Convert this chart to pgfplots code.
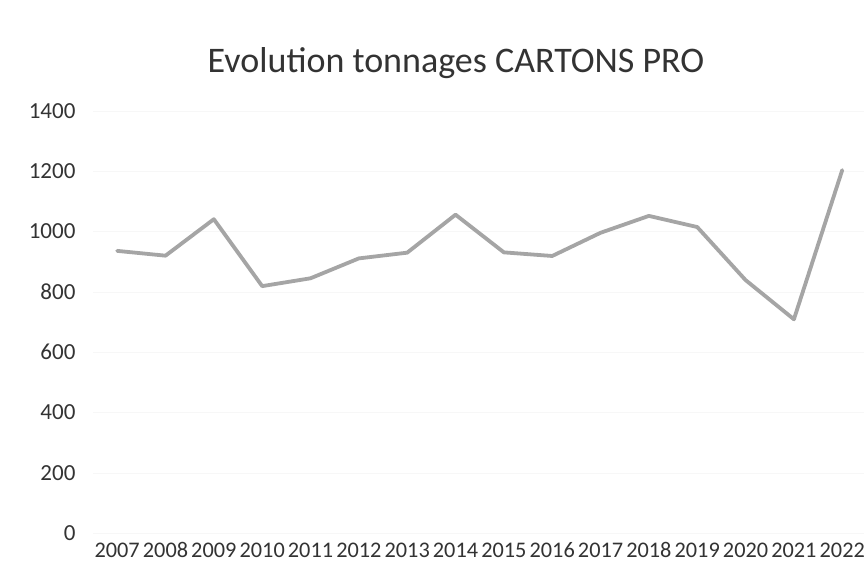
\documentclass[border=0pt]{standalone}
\usepackage{pgfplots}
\pgfplotsset{compat=1.18}
\usepackage{fontspec}
\setmainfont{Carlito}
\definecolor{linegray}{RGB}{165,165,165}
\begin{document}
\begin{tikzpicture}
\useasboundingbox (0,0) rectangle (864pt,573pt);
\fill[white] (0,0) rectangle (864pt,573pt);
\node[font=\fontsize{36}{36}\selectfont, text=black!80] at (456pt,510pt) {Evolution tonnages CARTONS PRO};
\begin{axis}[
  at={(93pt,40pt)}, anchor=south west,
  scale only axis,
  width=771pt, height=422pt,
  xmin=-0.5, xmax=15.45,
  ymin=0, ymax=1400,
  ytick={0,200,...,1400},
  xtick={0,...,15},
  xticklabels={2007,2008,2009,2010,2011,2012,2013,2014,2015,2016,2017,2018,2019,2020,2021,2022},
  axis line style={draw=none},
  major tick length=0pt,
  ymajorgrids, grid style={black!3},
  ticklabel style={font=\fontsize{23}{23}\selectfont, text=black!80},
  xticklabel style={font=\fontsize{22.3}{22.3}\selectfont, yshift=-6pt},
  /pgf/number format/assume math mode=true,
  /pgf/number format/1000 sep={},
  yticklabel style={xshift=-14pt},
  clip=false,
]
\addplot[color=linegray, line width=3.8pt, line join=round, line cap=round, mark=none] coordinates {
(0,936) (1,920) (2,1041) (3,819) (4,845) (5,911) (6,930) (7,1056)
(8,931) (9,919) (10,996) (11,1052) (12,1015) (13,839) (14,709) (15,1204)
};
\end{axis}
\end{tikzpicture}
\end{document}
